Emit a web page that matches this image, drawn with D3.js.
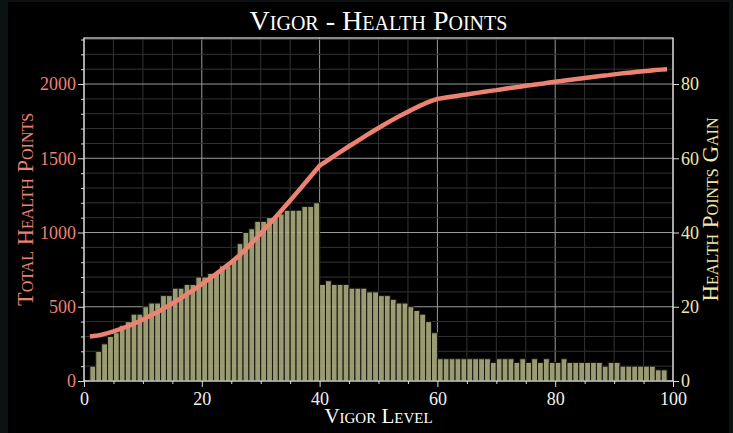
<!DOCTYPE html>
<meta charset="utf-8">
<head>
    <title>Vigor - Health Points</title>
    <script type="text/javascript" src="https://cdn.jsdelivr.net/npm/d3@7/dist/d3.min.js"></script>
    <style>
        html, body {
            margin: 0;
            padding: 0;
            background-color: #0a1111;
        }
        svg text {
            font-family: "Liberation Serif", "DejaVu Serif", serif;
        }
        .sc {
            font-variant: small-caps;
        }
    </style>
</head>

<body>
    <div id="chart"></div>

    <script>
        // total HP for vigor 1..99
        var vigorLevels = d3.range(1, 100);
        var totalHP = [
            300, 304, 312, 322, 334, 347, 362, 378, 396, 414,
            434, 455, 476, 499, 522, 547, 572, 598, 624, 652,
            680, 709, 738, 769, 800, 833, 870, 910, 951, 994,
            1037, 1081, 1125, 1170, 1216, 1262, 1308, 1355, 1402, 1450,
            1476, 1503, 1529, 1555, 1581, 1606, 1631, 1656, 1680, 1704,
            1727, 1750, 1772, 1793, 1814, 1834, 1853, 1871, 1887, 1900,
            1906, 1912, 1918, 1924, 1930, 1936, 1942, 1948, 1954, 1959,
            1965, 1971, 1977, 1982, 1988, 1993, 1999, 2004, 2010, 2015,
            2020, 2026, 2031, 2036, 2041, 2046, 2051, 2056, 2060, 2065,
            2070, 2074, 2078, 2082, 2086, 2090, 2094, 2097, 2100
        ];

        // HP gained going from level n to n+1 (n = 1..98)
        var gainLevels = d3.range(1, 99);
        var hpGain = [
            4, 8, 10, 12, 13, 15, 16, 18, 18, 20,
            21, 21, 23, 23, 25, 25, 26, 26, 28, 28,
            29, 29, 31, 31, 33, 37, 40, 41, 43, 43,
            44, 44, 45, 46, 46, 46, 47, 47, 48, 26,
            27, 26, 26, 26, 25, 25, 25, 24, 24, 23,
            23, 22, 21, 21, 20, 19, 18, 16, 13, 6,
            6, 6, 6, 6, 6, 6, 6, 6, 5, 6,
            6, 6, 5, 6, 5, 6, 5, 6, 5, 5,
            6, 5, 5, 5, 5, 5, 5, 4, 5, 5,
            4, 4, 4, 4, 4, 4, 3, 3
        ];

        var xTicks = [0, 20, 40, 60, 80, 100];
        var leftTicks = [0, 500, 1000, 1500, 2000];
        var rightTicks = [0, 20, 40, 60, 80];

        var W = 733, H = 433;
        var margin = {top: 38, right: 60, bottom: 52, left: 84};
        var plotW = W - margin.left - margin.right;
        var plotH = H - margin.top - margin.bottom;

        var hpColor = "#ec8272";
        var gainColor = "#eee8aa";

        var svg = d3.select("#chart").append("svg")
            .attr("width", W)
            .attr("height", H);

        // frame
        svg.append("rect").attr("x", 8).attr("y", 2)
            .attr("width", 721).attr("height", H - 2)
            .attr("fill", "#000");

        var g = svg.append("g").attr("transform", "translate(" + margin.left + "," + margin.top + ")");

        // scales
        var x = d3.scaleLinear().domain([0, 100]).range([0, plotW]);
        var yLeft = d3.scaleLinear().domain([0, 2310]).range([plotH, 0]);
        var yRight = d3.scaleLinear().domain([0, 2310 / 25]).range([plotH, 0]);

        // grid
        var grid = g.append("g").attr("class", "grid");
        grid.selectAll(".vminor").data(d3.range(0, 101, 5)).enter().append("line")
            .attr("x1", d => x(d)).attr("x2", d => x(d))
            .attr("y1", 0).attr("y2", plotH)
            .attr("stroke", d => d % 20 == 0 ? "#9a9a9a" : "#333")
            .attr("stroke-width", 1);
        grid.selectAll(".hminor").data(d3.range(0, 2301, 100)).enter().append("line")
            .attr("x1", 0).attr("x2", plotW)
            .attr("y1", d => yLeft(d)).attr("y2", d => yLeft(d))
            .attr("stroke", d => d % 500 == 0 ? "#9a9a9a" : "#333")
            .attr("stroke-width", 1);

        // gain bars (right axis)
        g.append("g").selectAll("rect")
            .data(hpGain)
            .enter()
            .append("rect")
            .attr("x", (d, i) => x(gainLevels[i]))
            .attr("width", (d, i) => x(gainLevels[i] + 1) - x(gainLevels[i]))
            .attr("y", d => yRight(d))
            .attr("height", d => plotH - yRight(d))
            .attr("fill", "#b1b083")
            .attr("fill-opacity", 0.88)
            .attr("stroke", "#15150f")
            .attr("stroke-width", 1);

        // total hp line (left axis)
        var line = d3.line()
            .x((d, i) => x(vigorLevels[i]))
            .y(d => yLeft(d));

        g.append("path")
            .datum(totalHP)
            .attr("d", line)
            .attr("fill", "none")
            .attr("stroke", hpColor)
            .attr("stroke-width", 4.5)
            .attr("stroke-linejoin", "round");

        // axes
        var xAxis = g.append("g").attr("transform", "translate(0," + plotH + ")")
            .call(d3.axisBottom(x).tickValues(xTicks).tickSize(6).tickPadding(5).tickFormat(d3.format("d")));
        g.append("g").attr("transform", "translate(0," + plotH + ")")
            .call(d3.axisBottom(x).tickValues(d3.range(0, 101, 5).filter(d => d % 20 != 0)).tickSize(3).tickFormat(""));

        var leftAxis = g.append("g")
            .call(d3.axisLeft(yLeft).tickValues(leftTicks).tickSize(6).tickPadding(2).tickFormat(d3.format("d")));
        g.append("g")
            .call(d3.axisLeft(yLeft).tickValues(d3.range(0, 2301, 100).filter(d => d % 500 != 0)).tickSize(3).tickFormat(""));

        var rightAxis = g.append("g").attr("transform", "translate(" + plotW + ",0)")
            .call(d3.axisRight(yRight).tickValues(rightTicks).tickSize(6).tickPadding(2).tickFormat(d3.format("d")));

        g.selectAll(".domain").attr("stroke", "none");
        g.selectAll(".tick line").attr("stroke", "#ddd");
        xAxis.selectAll("text").attr("fill", "#f2f2f2").attr("font-size", 18);
        leftAxis.selectAll("text").attr("fill", hpColor).attr("font-size", 18);
        rightAxis.selectAll("text").attr("fill", gainColor).attr("font-size", 18);

        // spines
        g.append("rect").attr("x", 0).attr("y", 0).attr("width", plotW).attr("height", plotH)
            .attr("fill", "none").attr("stroke", "#e6e6e6").attr("stroke-width", 1.2);

        // title and labels
        svg.append("text").attr("class", "sc")
            .attr("x", margin.left + plotW / 2).attr("y", 30)
            .attr("text-anchor", "middle")
            .attr("fill", "#fff")
            .attr("font-size", 28)
            .text("Vigor - Health Points");

        svg.append("text").attr("class", "sc")
            .attr("x", margin.left + plotW / 2).attr("y", 423)
            .attr("text-anchor", "middle")
            .attr("fill", "#fff")
            .attr("font-size", 21)
            .text("Vigor Level");

        svg.append("text").attr("class", "sc")
            .attr("transform", "translate(33," + (margin.top + plotH / 2) + ") rotate(-90)")
            .attr("text-anchor", "middle")
            .attr("fill", hpColor)
            .attr("font-size", 22.5)
            .text("Total Health Points");

        svg.append("text").attr("class", "sc")
            .attr("transform", "translate(718," + (margin.top + plotH / 2) + ") rotate(-90)")
            .attr("text-anchor", "middle")
            .attr("fill", gainColor)
            .attr("font-size", 23)
            .text("Health Points Gain");
    </script>
</body>
</html>
